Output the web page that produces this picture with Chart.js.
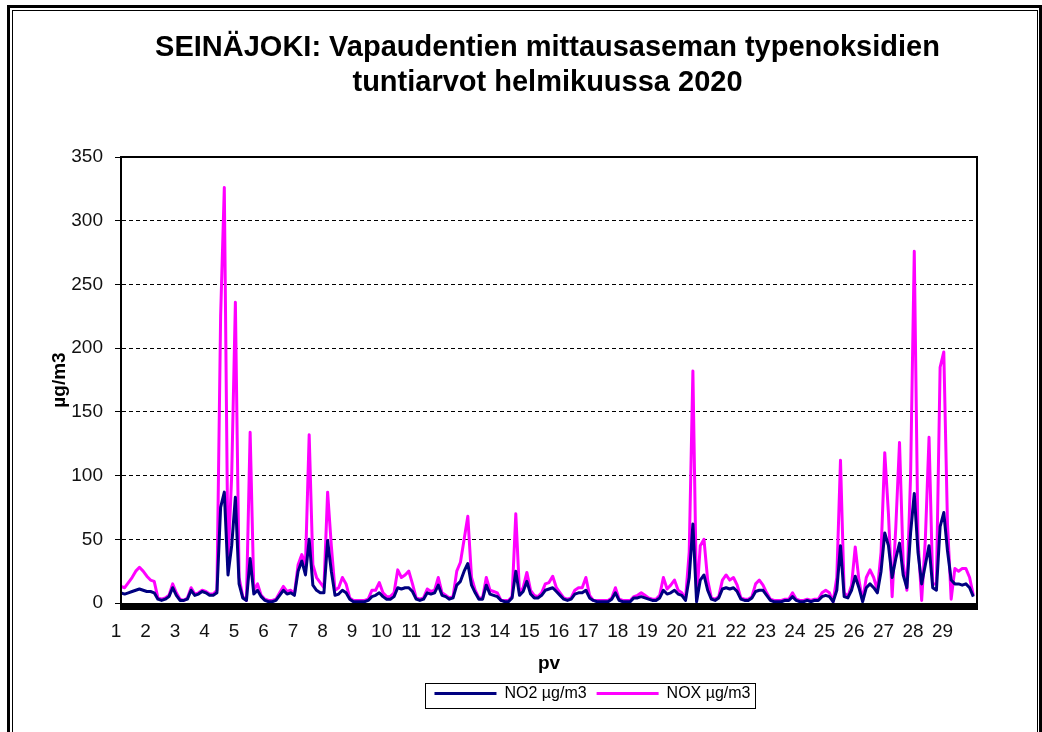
<!DOCTYPE html>
<html>
<head>
<meta charset="utf-8">
<script src="https://cdn.jsdelivr.net/npm/chart.js@4.4.1/dist/chart.umd.min.js"></script>
<style>
  html, body { margin: 0; padding: 0; background: #fff; }
  #wrap { width: 1042px; height: 732px; }
</style>
</head>
<body>
<div id="wrap"><canvas id="no_chart" width="1042" height="732"></canvas></div>
<script>
// days of February 2020 shown on the x axis
var days = [1,2,3,4,5,6,7,8,9,10,11,12,13,14,15,16,17,18,19,20,21,22,23,24,25,26,27,28,29];
// readings every 3 hours, 8 per day
var stepsPerDay = 8;

var no2 = [
  8,7,8,9,10,11,10,9,      // 1
  9,8,3,2,3,5,12,6,        // 2
  2,2,3,10,6,7,9,8,        // 3
  6,6,8,75,87,22,45,83,    // 4
  15,4,2,35,7,10,5,2,      // 5
  1,1,2,6,10,7,8,6,        // 6
  25,33,22,50,14,10,8,8,   // 7
  49,25,6,7,10,8,3,1,      // 8
  1,1,1,2,5,6,8,5,         // 9
  3,3,5,12,11,12,12,9,     // 10
  3,2,3,8,7,8,14,6,        // 11
  5,3,4,14,17,25,31,14,    // 12
  8,3,3,14,7,6,5,2,        // 13
  1,1,4,25,6,9,17,7,       // 14
  4,4,6,10,11,12,9,6,      // 15
  3,2,3,7,8,8,10,4,        // 16
  2,1,1,1,1,3,8,2,         // 17
  1,1,1,4,4,5,4,3,         // 18
  2,2,4,10,7,8,10,7,       // 19
  6,2,20,62,1,18,22,10,    // 20
  3,2,4,11,12,11,12,9,     // 21
  3,2,2,4,9,10,10,6,       // 22
  2,1,1,1,2,2,5,2,         // 23
  1,1,2,1,2,2,5,6,         // 24
  5,1,10,45,5,4,10,21,     // 25
  12,1,12,15,12,8,25,55,   // 26
  45,20,35,47,22,12,55,86, // 27
  40,15,30,45,12,10,60,71, // 28
  41,18,15,15,14,15,12,5   // 29
];

var nox = [
  13,12,16,20,25,28,25,21,     // 1
  18,17,4,3,4,6,15,8,          // 2
  3,2,4,12,7,8,10,9,           // 3
  7,7,10,225,326,30,100,236,   // 4
  20,5,2,134,10,15,6,3,        // 5
  2,2,3,8,13,9,10,7,           // 6
  30,38,30,132,30,20,16,12,    // 7
  87,45,10,12,20,15,4,2,       // 8
  2,2,2,3,10,10,16,8,          // 9
  5,5,8,26,20,22,25,15,        // 10
  4,3,4,11,9,10,20,8,          // 11
  6,4,5,25,32,50,68,20,        // 12
  10,4,4,20,10,9,8,2,          // 13
  2,2,5,70,8,12,24,10,         // 14
  6,5,8,15,16,21,12,8,         // 15
  4,3,4,10,12,12,20,6,         // 16
  2,2,2,2,2,4,12,3,            // 17
  2,2,2,5,6,8,6,4,             // 18
  3,3,6,20,11,14,18,10,        // 19
  8,3,40,182,2,45,50,18,       // 20
  4,3,5,18,22,18,20,14,        // 21
  4,3,3,5,15,18,14,8,          // 22
  3,2,2,2,3,3,8,3,             // 23
  2,2,3,2,3,3,8,10,            // 24
  8,1,20,112,8,5,14,44,        // 25
  18,2,20,26,20,10,40,118,     // 26
  70,5,60,126,31,10,100,276,   // 27
  50,2,50,130,15,15,185,197,   // 28
  62,3,27,25,27,27,20,6        // 29
];

var yTicks = [0,50,100,150,200,250,300,350];

function toPoints(arr) {
  return arr.map(function (v, i) { return {x: 1 + i / stepsPerDay, y: v}; });
}

Chart.defaults.font.family = "'Liberation Sans', Arial, sans-serif";
Chart.defaults.color = '#111';

// frame, plot box, thick base band and the boxed legend of the excel chart
var excelLook = {
  id: 'excelLook',
  afterLayout: function (chart) {
    // excel centres title and legend a bit more to the right
    chart.titleBlock.left += 35;
    chart.titleBlock.right += 35;
    chart.legend.left += 80;
    chart.legend.right += 80;
  },
  afterDraw: function (chart) {
    var ctx = chart.ctx;
    var a = chart.chartArea;
    ctx.save();
    // plot box
    ctx.strokeStyle = '#000';
    ctx.lineWidth = 2;
    ctx.beginPath();
    ctx.moveTo(a.left, a.bottom);
    ctx.lineTo(a.left, a.top);
    ctx.lineTo(a.right, a.top);
    ctx.lineTo(a.right, a.bottom);
    ctx.stroke();
    ctx.fillStyle = '#000';
    ctx.fillRect(a.left - 1, a.bottom, a.right - a.left + 2, 7);

    // legend box
    var hb = chart.legend.legendHitBoxes;
    if (hb && hb.length) {
      var l = hb[0].left, r = hb[hb.length - 1].left + hb[hb.length - 1].width;
      var t = hb[0].top;
      ctx.lineWidth = 1;
      ctx.strokeRect(Math.round(l - 9) + 0.5, Math.round(t - 3) + 0.5, Math.round(r - l + 14), 25);
    }

    // outer frame
    ctx.lineWidth = 3;
    ctx.strokeRect(8.5, 6.5, 1032, 800);
    ctx.lineWidth = 1;
    ctx.strokeRect(12.5, 10.5, 1025, 800);
    ctx.restore();
  }
};

var noChart = new Chart(document.getElementById('no_chart').getContext('2d'), {
  type: 'line',
  data: {
    datasets: [{
      label: 'NO2 µg/m3',
      data: toPoints(no2),
      borderColor: '#000080',
      backgroundColor: '#000080',
      borderWidth: 3
    }, {
      label: 'NOX µg/m3',
      data: toPoints(nox),
      borderColor: '#ff00ff',
      backgroundColor: '#ff00ff',
      borderWidth: 3
    }]
  },
  options: {
    responsive: false,
    animation: false,
    devicePixelRatio: 1,
    elements: {
      point: { radius: 0 },
      line: { tension: 0, borderJoinStyle: 'round' }
    },
    layout: {
      padding: { top: 20, left: 48, right: 65, bottom: 20.4 }
    },
    scales: {
      x: {
        type: 'linear',
        min: 1,
        max: 30,
        afterFit: function (scale) { scale.height = 72.6; },
        grid: { display: false, drawTicks: false },
        border: { display: false },
        ticks: {
          stepSize: 1,
          autoSkip: false,
          maxRotation: 0,
          padding: 17,
          labelOffset: -5,
          font: { size: 19 },
          callback: function (v) { return days.indexOf(v) >= 0 ? String(v) : ''; }
        },
        title: {
          display: true,
          text: 'pv',
          color: '#000',
          font: { size: 19, weight: 'bold' },
          padding: { top: 10, bottom: 0 }
        }
      },
      y: {
        min: 0,
        max: 350,
        afterBuildTicks: function (scale) {
          scale.ticks = yTicks.map(function (v) { return {value: v}; });
        },
        afterFit: function (scale) { scale.width = 73; },
        grid: {
          color: '#000',
          lineWidth: 1,
          tickLength: 6,
          tickColor: '#000',
          tickWidth: 1,
          tickBorderDash: []
        },
        border: { display: true, color: '#000', width: 2, dash: [4, 3] },
        ticks: { padding: 12, font: { size: 19 } },
        title: {
          display: true,
          text: 'µg/m3',
          color: '#000',
          font: { size: 19, weight: 'bold' },
          padding: { top: 0, bottom: 0 }
        }
      }
    },
    plugins: {
      title: {
        display: true,
        text: ['SEINÄJOKI: Vapaudentien mittausaseman typenoksidien', 'tuntiarvot helmikuussa 2020'],
        color: '#000',
        font: { size: 29, weight: 'bold', lineHeight: 1.2 },
        padding: { top: 10.6, bottom: 56.8 }
      },
      legend: {
        position: 'bottom',
        labels: {
          usePointStyle: true,
          pointStyle: 'line',
          pointStyleWidth: 62,
          padding: 10,
          color: '#000',
          font: { size: 16 }
        }
      },
      tooltip: { enabled: false }
    }
  },
  plugins: [excelLook]
});
</script>
</body>
</html>
